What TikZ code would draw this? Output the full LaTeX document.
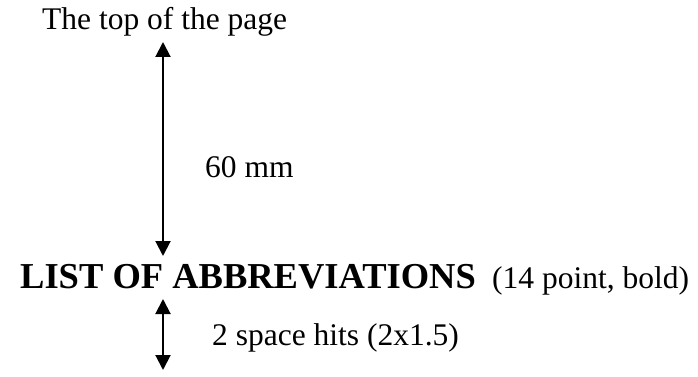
\documentclass[tikz,border=0pt]{standalone}
\usepackage{fontspec}
\setmainfont{Liberation Serif}
\usetikzlibrary{arrows.meta}
\tikzset{
  lbl/.style={anchor=base west, inner sep=0pt, font=\fontsize{31.5}{36}\selectfont},
  ttl/.style={anchor=base west, inner sep=0pt, font=\fontsize{36.5}{42}\selectfont\bfseries},
  dim/.style={line width=2pt, {Triangle[width=15pt,length=15pt]}-{Triangle[width=15pt,length=15pt]}}
}
\begin{document}
\begin{tikzpicture}[x=1pt,y=-1pt]
\useasboundingbox (0,0) rectangle (698,377);
\node[lbl] (top) at (42,30) {The top of the page};
\node[lbl] (sixty) at (205,177) {60 mm};
\node[ttl] (title) at (20,288) {LIST OF ABBREVIATIONS};
\node[lbl] (note) at (492,288) {(14 point, bold)};
\node[lbl] (space) at (212,345) {2 space hits (2x1.5)};
\coordinate (a1t) at (163,42);
\coordinate (a1b) at (163,256);
\coordinate (a2t) at (163,299);
\coordinate (a2b) at (163,370);
\draw[dim] (a1t) -- (a1b);
\draw[dim] (a2t) -- (a2b);
\end{tikzpicture}
\end{document}
